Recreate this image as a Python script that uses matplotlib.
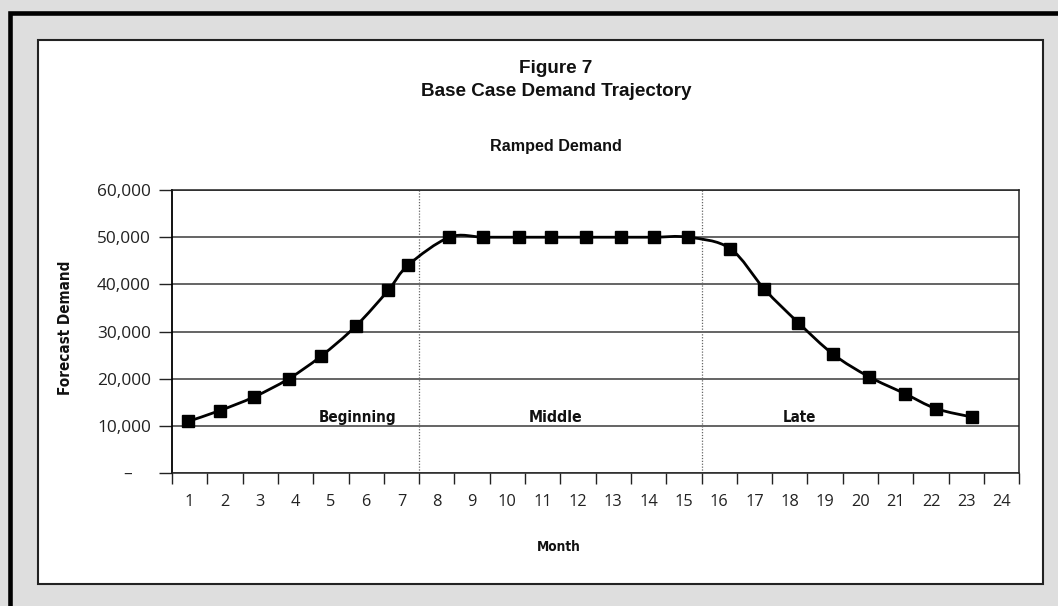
import numpy as np
import matplotlib
matplotlib.use("Agg")
import matplotlib.pyplot as plt
from matplotlib.patches import Rectangle, PathPatch
from matplotlib.path import Path
from matplotlib import font_manager as fm

# ---------------- data ----------------
month_labels = [str(m) for m in range(1, 25)]
point_month = [0.96, 1.86, 2.83, 3.80, 4.72, 5.71, 6.63, 7.19,
               8.36, 9.32, 10.34, 11.24, 12.24, 13.23, 14.15, 15.13,
               16.31, 17.28, 18.24, 19.23, 20.23, 21.25, 22.14, 23.17]
demand = [11000, 13300, 16200, 20000, 24800, 31200, 38800, 44100,
          50000, 50000, 50000, 50000, 50000, 50000, 50000, 50000,
          47600, 39000, 31900, 25200, 20500, 16900, 13700, 11900]
y_ticks = [0, 10000, 20000, 30000, 40000, 50000, 60000]
y_tick_labels = ["\u2013", "10,000", "20,000", "30,000", "40,000", "50,000", "60,000"]
phase_names = ["Beginning", "Middle", "Late"]
phase_bounds = [7.5, 15.5]

W, H = 1058, 606
fig = plt.figure(figsize=(W / 100, H / 100), dpi=100)
fig.patch.set_facecolor("#dedede")

def fx(px):
    return px / W

def fy(py):
    return 1 - py / H

# pick a narrow bold face if one is installed
NARROW = dict(fontfamily=["Liberation Sans", "DejaVu Sans"])
for f in fm.fontManager.ttflist:
    nm = f.name.lower()
    if "liberation sans narrow" in nm:
        NARROW = dict(fontfamily=[f.name, "Liberation Sans"])
        break
else:
    for f in fm.fontManager.ttflist:
        if f.name.startswith("DejaVu Sans") and f.stretch == "condensed" \
                and f.weight in ("bold", 700):
            NARROW = dict(fontfamily=[f.name], fontstretch="condensed")
            break
SANS = ["Liberation Sans", "DejaVu Sans"]
TICKF = ["Open Sans", "DejaVu Sans"]

# outer black frame (clipped at right/bottom)
fig.add_artist(Rectangle((fx(9.7), fy(640)), fx(1100) - fx(9.7), fy(12.5) - fy(640),
                         transform=fig.transFigure, fill=False, lw=3.3,
                         ec="black", zorder=-2))
# inner white panel
fig.add_artist(Rectangle((fx(38), fy(583.5)), fx(1043) - fx(38), fy(39.7) - fy(583.5),
                         transform=fig.transFigure, fc="white", lw=1.5,
                         ec="#222222", zorder=-1))

ax = fig.add_axes([fx(172), fy(473.3), fx(1019.3) - fx(172), fy(190) - fy(473.3)])
ax.set_facecolor("white")
ax.set_xlim(0.5, 24.5)
ax.set_ylim(0, 60000)

# x axis: ticks at category boundaries, labels at centres
ax.set_xticks(np.arange(0.5, 25, 1.0))
ax.set_xticklabels([])
ax.set_xticks(np.arange(1, 25), minor=True)
ax.set_xticklabels(month_labels, minor=True, fontfamily=TICKF, fontsize=11.8,
                   color="#222222")
ax.tick_params(axis="x", which="major", length=7.7, width=1.0, color="#222222",
               direction="out")
ax.tick_params(axis="x", which="minor", length=0, pad=15.0)

ax.set_yticks(y_ticks)
ax.set_yticklabels(y_tick_labels, fontfamily=TICKF, fontsize=12.4, color="#222222")
ax.tick_params(axis="y", length=9.6, width=1.0, color="#222222", pad=5.6)
ax.yaxis.get_major_ticks()[0].set_pad(5.6 + 13.5)

ax.yaxis.grid(True, color="#3a3a3a", lw=1.1)
ax.set_axisbelow(True)
for s in ax.spines.values():
    s.set_color("#222222")
    s.set_linewidth(1.1)
ax.spines["left"].set_color("black")
ax.spines["left"].set_linewidth(1.3)

for b in phase_bounds:
    ax.axvline(b, color="#666666", lw=0.9, ls=(0, (1, 1.3)), zorder=1)

# smoothed line (Catmull-Rom style Bezier through the points)
P = np.column_stack([point_month, demand]).astype(float)
n = len(P)
verts = [tuple(P[0])]
codes = [Path.MOVETO]
for k in range(n - 1):
    p0 = P[k - 1] if k > 0 else P[k]
    p1, p2 = P[k], P[k + 1]
    p3 = P[k + 2] if k + 2 < n else P[k + 1]
    c1 = p1 + (p2 - p0) / 6.0
    c2 = p2 - (p3 - p1) / 6.0
    verts += [tuple(c1), tuple(c2), tuple(p2)]
    codes += [Path.CURVE4] * 3
ax.add_patch(PathPatch(Path(verts, codes), fill=False, ec="black", lw=2.0,
                       zorder=3, capstyle="round", joinstyle="round"))
ax.plot(point_month, demand, ls="none", marker="s", ms=9.1, mfc="black",
        mec="black", zorder=4)

fit = []  # (text artist, target extent in px, vertical?)

# phase labels
phase_x = [5.755, 11.36, 18.27]
phase_w = [78, 54, 33.5]
for name, px_, w_ in zip(phase_names, phase_x, phase_w):
    t = ax.text(px_, 10930, name, ha="center", va="baseline", fontweight="bold",
                fontsize=14, color="#111111", zorder=5, **NARROW)
    fit.append((t, w_, False))

# titles
fig.text(fx(556), fy(73), "Figure 7", ha="center", va="baseline",
         fontfamily=SANS, fontweight="bold", fontsize=13.6, color="#111111")
fig.text(fx(556), fy(95.7), "Base Case Demand Trajectory", ha="center",
         va="baseline", fontfamily=SANS, fontweight="bold", fontsize=13.6,
         color="#111111")
fig.text(fx(556), fy(150.5), "Ramped Demand", ha="center", va="baseline",
         fontfamily=SANS, fontweight="bold", fontsize=11.6, color="#111111")
t = fig.text(fx(559), fy(551), "Month", ha="center", va="baseline",
             fontweight="bold", fontsize=11.5, color="#111111", **NARROW)
fit.append((t, 44, False))
t = fig.text(fx(65), fy(327.5), "Forecast Demand", ha="center", va="center",
             rotation=90, fontweight="bold", fontsize=14, color="#111111", **NARROW)
fit.append((t, 135, True))

r = fig.canvas.get_renderer()
for t, target, vert in fit:
    bb = t.get_window_extent(r)
    cur = bb.height if vert else bb.width
    t.set_fontsize(t.get_fontsize() * target / cur)

fig.savefig("out.png", dpi=100, facecolor=fig.get_facecolor())
